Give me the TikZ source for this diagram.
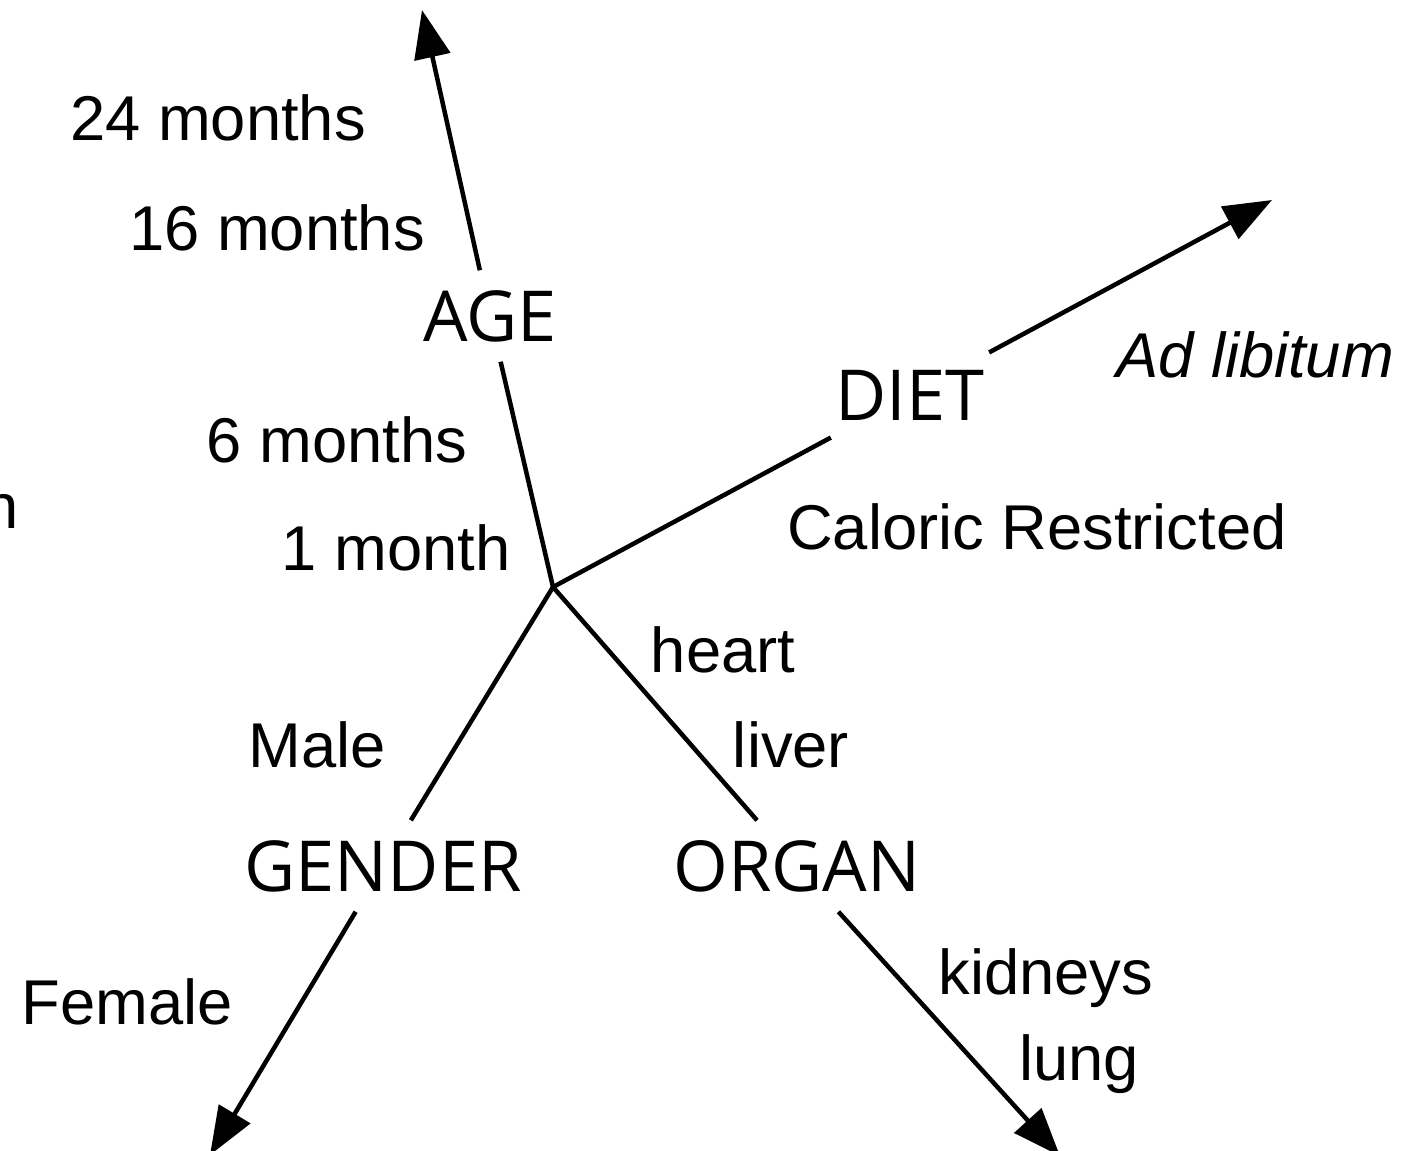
\documentclass[tikz,border=0pt]{standalone}
\usepackage{fontspec}
\setmainfont{Liberation Sans}
\newfontfamily\axisfont{Open Sans}
\usetikzlibrary{arrows.meta}

\begin{document}
\begin{tikzpicture}[x=0.01cm,y=-0.01cm,
    axis/.style={line width=0.045cm},
    tipped/.style={-{Triangle[length=0.48cm,width=0.36cm]}},
    dimension/.style={font=\axisfont\fontsize{20}{24}\selectfont,
      inner xsep=0.04cm, inner ysep=0.2cm, text height=0.5cm, text depth=0cm},
    level/.style={font=\fontsize{18}{22}\selectfont, anchor=base, inner sep=0pt}]

    \useasboundingbox (0,0) rectangle (1427,1150);

    % centre and arrow ends
    \coordinate (o) at (553,587);
    \coordinate (agetip) at (422,10);
    \coordinate (diettip) at (1272,200);
    \coordinate (gendertip) at (210,1155);
    \coordinate (organtip) at (1060,1156);

    % dimensions
    \node[dimension] (age) at (490,316) {AGE};
    \node[dimension] (diet) at (910,395) {DIET};
    \node[dimension] (gender) at (383,866) {GENDER};
    \node[dimension] (organ) at (797,866) {ORGAN};

    % levels
    \node[level] (m24) at (218,140) {24 months};
    \node[level] (m16) at (277,250) {16 months};
    \node[level] (m6) at (337,462) {6 months};
    \node[level] (m1) at (396,570) {1 month};
    \node[level, anchor=base east] (cut) at (19,528) {n};
    \node[level] (adlib) at (1255,377) {\itshape Ad libitum};
    \node[level] (cr) at (1037,549) {Caloric Restricted};
    \node[level] (heart) at (723,672) {heart};
    \node[level] (liver) at (791,767) {liver};
    \node[level] (male) at (317,767) {Male};
    \node[level] (female) at (127,1024) {Female};
    \node[level] (kidneys) at (1046,994) {kidneys};
    \node[level] (lung) at (1079,1080) {lung};

    % axes
    \draw[axis] (o) -- (age);
    \draw[axis,tipped] (age) -- (agetip);
    \draw[axis] (o) -- (diet);
    \draw[axis,tipped] (diet) -- (diettip);
    \draw[axis] (o) -- (gender);
    \draw[axis,tipped] (gender) -- (gendertip);
    \draw[axis] (o) -- (organ);
    \draw[axis,tipped] (organ) -- (organtip);
\end{tikzpicture}
\end{document}
